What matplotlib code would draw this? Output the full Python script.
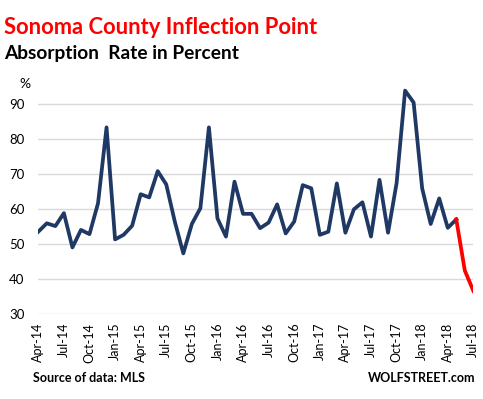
import matplotlib
matplotlib.use("Agg")
import matplotlib.pyplot as plt
import pandas as pd

plt.rcParams['font.family'] = ['Lato', 'DejaVu Sans']

months = pd.date_range("2014-04-01", "2018-07-01", freq="MS")
values = [53.6, 56.0, 55.2, 58.9, 49.1, 54.1, 52.9, 61.7, 83.4, 51.4,
          52.7, 55.3, 64.3, 63.4, 70.9, 67.1, 56.5, 47.4, 55.8, 60.3,
          83.4, 57.4, 52.2, 67.9, 58.7, 58.7, 54.6, 56.2, 61.4, 53.1,
          56.5, 66.9, 66.0, 52.7, 53.6, 67.4, 53.3, 60.0, 62.0, 52.2,
          68.4, 53.3, 67.4, 93.9, 90.5, 66.0, 55.8, 63.1, 54.7, 57.1,
          42.5, 36.7]
red_start = 49  # index where the red segment begins (Apr-18)
yticks = [30, 40, 50, 60, 70, 80, 90]
tick_every = 3

title = "Sonoma County Inflection Point"
subtitle = "Absorption  Rate in Percent"
source = "Source of data: MLS"
brand = "WOLFSTREET.com"

labels = [m.strftime("%b-%y") for m in months]
x = list(range(len(values)))

fig = plt.figure(figsize=(4.83, 3.99), dpi=100)
ax = fig.add_axes([0.0793, 0.2123, 0.9007, 0.579])

ax.plot(x[:red_start + 1], values[:red_start + 1], color="#1F3864", lw=2.7,
        solid_joinstyle="round", zorder=3)
ax.plot(x[red_start:], values[red_start:], color="#FF0000", lw=2.7,
        solid_joinstyle="round", zorder=3)

ax.set_xlim(0, len(values) - 1)
ax.set_ylim(30, 96)
ax.set_yticks(yticks)
ax.set_yticklabels([str(t) for t in yticks], fontsize=9.5)
ax.set_xticks(x[::tick_every])
ax.set_xticklabels(labels[::tick_every], rotation=90, fontsize=9)
ax.tick_params(axis="both", length=0)
ax.tick_params(axis="y", pad=10)
ax.tick_params(axis="x", pad=6)
for s in ax.spines.values():
    s.set_visible(False)
ax.yaxis.grid(True, color="#D9D9D9", lw=1)
ax.set_axisbelow(True)

fig.text(0.008, 0.932, title, color="#FF0000", fontsize=15.8, fontweight="bold",
         va="center", ha="left")
fig.text(0.008, 0.866, subtitle, color="black", fontsize=13.8, fontweight="bold",
         va="center", ha="left")
fig.text(0.052, 0.789, "%", fontsize=10, va="center", ha="center")
fig.text(0.068, 0.053, source, fontsize=9, fontweight="bold", va="center", ha="left")
fig.text(0.985, 0.053, brand, fontsize=9, fontweight="bold", va="center", ha="right")

fig.savefig("out.png", dpi=100)
